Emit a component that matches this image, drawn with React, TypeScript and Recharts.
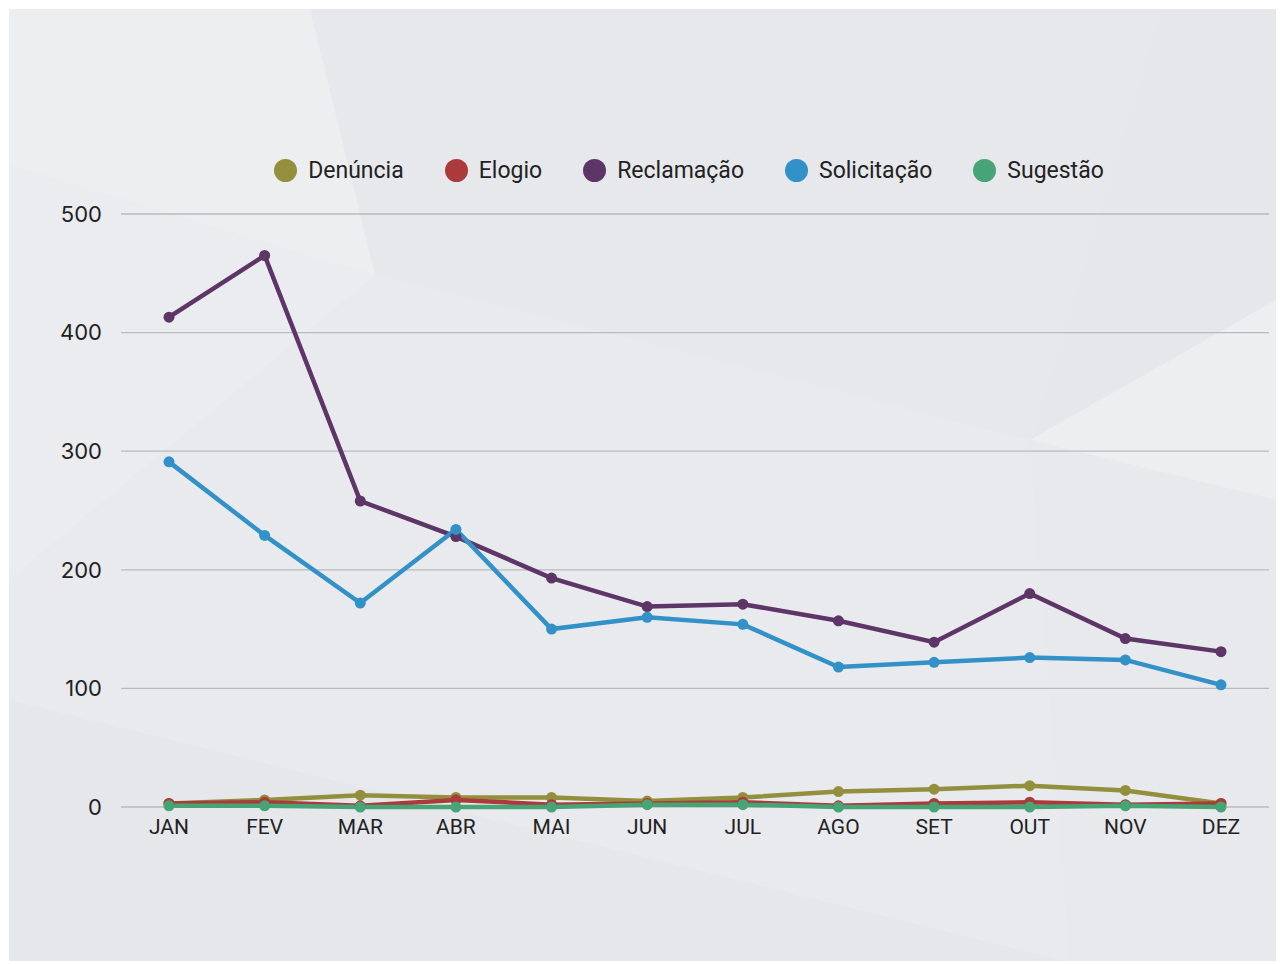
import React from "react";
import { LineChart, Line, XAxis, YAxis, CartesianGrid } from "recharts";

const months = ["JAN", "FEV", "MAR", "ABR", "MAI", "JUN", "JUL", "AGO", "SET", "OUT", "NOV", "DEZ"];
const denuncia = [3, 6, 10, 8, 8, 5, 8, 13, 15, 18, 14, 3];
const elogio = [3, 4, 1, 6, 2, 3, 4, 1, 3, 4, 2, 3];
const reclamacao = [413, 465, 258, 228, 193, 169, 171, 157, 139, 180, 142, 131];
const solicitacao = [291, 229, 172, 234, 150, 160, 154, 118, 122, 126, 124, 103];
const sugestao = [1, 1, 0, 0, 0, 2, 2, 0, 0, 0, 1, 0];
const yTicks = [0, 100, 200, 300, 400, 500];

const seriesNames = ["Denúncia", "Elogio", "Reclamação", "Solicitação", "Sugestão"];
const seriesKeys = ["denuncia", "elogio", "reclamacao", "solicitacao", "sugestao"];
const seriesColors = ["#948f3d", "#ab3a3a", "#5d3566", "#3291c7", "#47a476"];
const seriesValues = [denuncia, elogio, reclamacao, solicitacao, sugestao];

const data = months.map((m, i) => {
  const row: Record<string, string | number> = { month: m };
  seriesKeys.forEach((k, s) => {
    row[k] = seriesValues[s][i];
  });
  return row;
});

const W = 1267;
const H = 953;

function Background() {
  return (
    <svg width={W} height={H} style={{ position: "absolute", left: 0, top: 0 }}>
      <rect x={0} y={0} width={W} height={H} fill="#e9eaed" />
      <polygon points="0,0 301,0 366,266 0,156" fill="#edeef0" />
      <polygon points="301,0 1151,0 1021,431 366,266" fill="#e7e8ec" />
      <polygon points="0,156 366,266 0,571" fill="#ebecef" />
      <polygon points="366,266 1021,431 1061,953 0,691 0,571" fill="#e9eaed" />
      <polygon points="1151,0 1267,0 1267,291 1021,431" fill="#e5e7eb" />
      <polygon points="1021,431 1267,291 1267,491" fill="#eceef0" />
      <polygon points="1021,431 1267,491 1267,953 1061,953" fill="#e7e9ec" />
      <polygon points="0,691 1061,953 0,953" fill="#e6e7eb" />
    </svg>
  );
}

export default function App() {
  return (
    <div style={{ position: "relative", left: 1, top: 1, width: W, height: H }}>
      <Background />
      <div
        style={{
          position: "absolute",
          left: 100,
          width: 1160,
          top: 149,
          height: 24,
          display: "flex",
          justifyContent: "center",
          alignItems: "center",
          gap: 41,
          fontFamily: "Roboto, sans-serif",
          fontSize: 23,
          color: "#222",
        }}
      >
        {seriesNames.map((n, i) => (
          <div key={n} style={{ display: "flex", alignItems: "center" }}>
            <span
              style={{
                width: 23,
                height: 23,
                borderRadius: 12,
                background: seriesColors[i],
                display: "inline-block",
                marginRight: 11,
              }}
            />
            <span>{n}</span>
          </div>
        ))}
      </div>
      <div style={{ position: "absolute", left: 0, top: 0 }}>
        <LineChart
          width={W}
          height={H}
          data={data}
          margin={{ top: 205, right: 7, bottom: 125, left: 0 }}
        >
          <CartesianGrid vertical={false} stroke="#b9babe" strokeWidth={1.3} />
          <XAxis
            dataKey="month"
            axisLine={false}
            tickLine={false}
            padding={{ left: 48, right: 48 }}
            tickMargin={6}
            tick={{ fill: "#222", fontSize: 21, fontFamily: "Roboto, sans-serif" }}
            interval={0}
          />
          <YAxis
            width={112}
            domain={[0, 500]}
            ticks={yTicks}
            axisLine={false}
            tickLine={false}
            tickMargin={13}
            tick={{ fill: "#222", fontSize: 22, fontFamily: "Inter, sans-serif" }}
          />
          {seriesKeys.map((k, i) => (
            <Line
              key={k}
              type="linear"
              dataKey={k}
              name={seriesNames[i]}
              stroke={seriesColors[i]}
              strokeWidth={4.5}
              dot={{ r: 5.5, fill: seriesColors[i], stroke: seriesColors[i], strokeWidth: 0 }}
              isAnimationActive={false}
            />
          ))}
        </LineChart>
      </div>
    </div>
  );
}
